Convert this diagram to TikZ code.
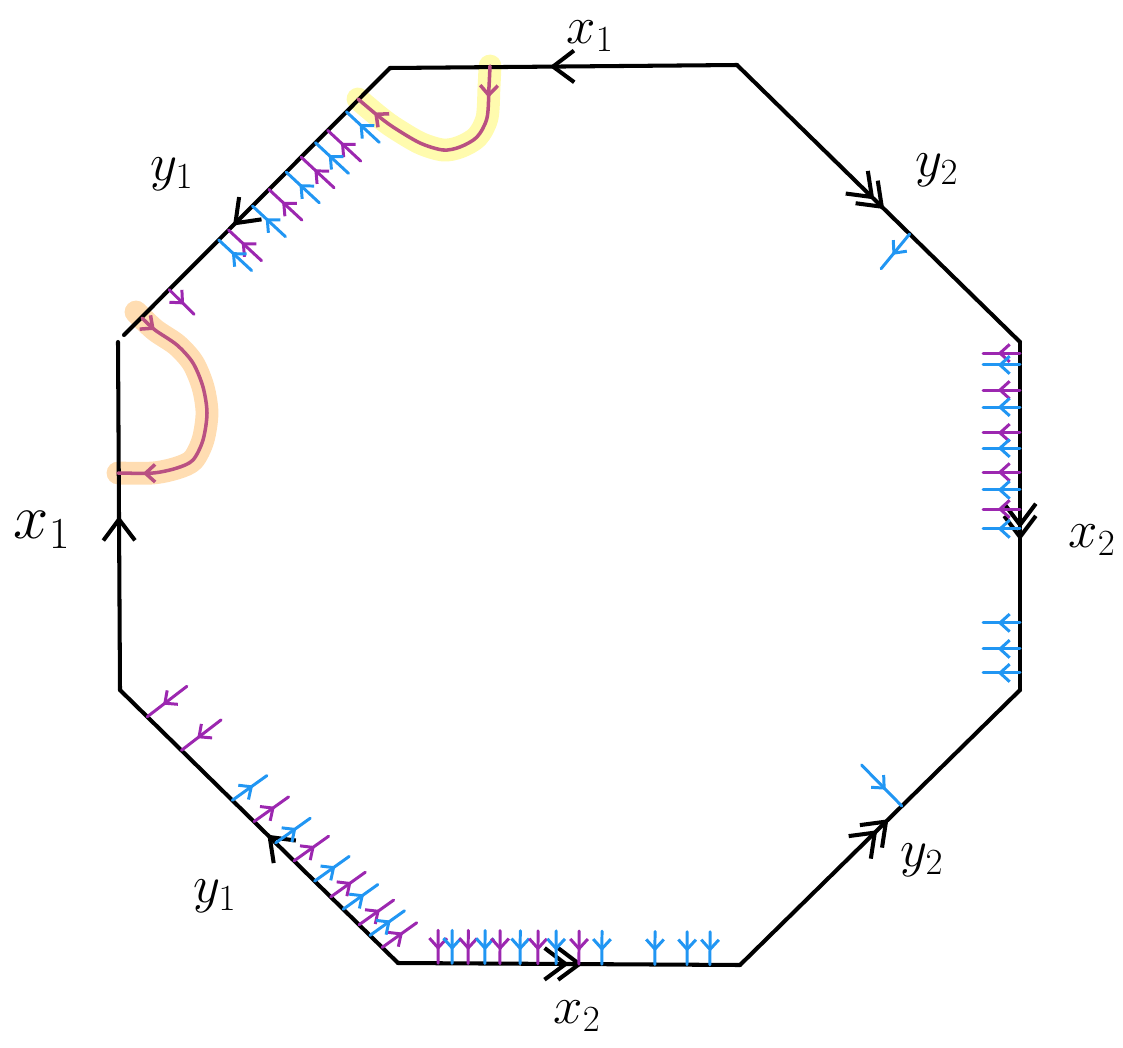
\documentclass[tikz,border=0pt]{standalone}
\usepackage{fix-cm}
\usepackage{tikz}
\usetikzlibrary{arrows.meta, calc, decorations.markings}
\definecolor{tickblue}{RGB}{33,150,243}
\definecolor{tickpurple}{RGB}{156,39,176}
\definecolor{curvered}{RGB}{185,80,130}
\definecolor{hlyellow}{RGB}{255,250,160}
\definecolor{hlorange}{RGB}{255,215,165}

\tikzset{
  bigbarb/.tip={Straight Barb[length=12pt,width=18pt]},
  smallbarb/.tip={Straight Barb[length=5.5pt,width=10pt]},
  octside/.style={line width=2.3pt, line cap=round},
  fwd/.style={postaction={decorate},decoration={markings,mark=at position #1 with {\arrow{bigbarb}}}},
  bwd/.style={postaction={decorate},decoration={markings,mark=at position #1 with {\arrowreversed{bigbarb}}}},
  twofwd/.style 2 args={postaction={decorate},decoration={markings,
      mark=at position #1 with {\arrow{bigbarb}},mark=at position #2 with {\arrow{bigbarb}}}},
  twobwd/.style 2 args={postaction={decorate},decoration={markings,
      mark=at position #1 with {\arrowreversed{bigbarb}},mark=at position #2 with {\arrowreversed{bigbarb}}}},
  colortick/.style={line width=1.7pt, line cap=round, postaction={decorate},
      decoration={markings,mark=at position 0.6 with {\arrow{smallbarb}}}},
  loopcurve/.style={curvered, line width=2pt, line cap=round, postaction={decorate},
      decoration={markings,mark=at position #1 with {\arrow{smallbarb}},mark=at position 0.9 with {\arrow{smallbarb}}}},
  glow/.style={line width=13pt, line cap=round, line join=round, opacity=0.85},
  lbl/.style={inner sep=0pt, font=\fontsize{30}{34}\selectfont}
}

\begin{document}
\begin{tikzpicture}[x=0.02cm, y=-0.02cm]
    \useasboundingbox (0,0) rectangle (1123,1048);

    % corners of the octagon
    \coordinate (p1) at (737,65);
    \coordinate (p2) at (390,68);
    \coordinate (p3) at (124,335);
    \coordinate (p4) at (118,342);
    \coordinate (p5) at (120,690);
    \coordinate (p6) at (398,963);
    \coordinate (p7) at (740,965);
    \coordinate (p8) at (1020,690);
    \coordinate (p9) at (1020,342);

    % highlighted loops (under everything)
    \draw[glow, hlyellow] plot[smooth] coordinates {(490,66) (489,87) (487,118) (477,137) (460,147) (443,150) (420,143) (393,127) (377,115) (358,99)};
    \draw[glow, hlorange] plot[smooth] coordinates {(136,312) (155,330) (177,345) (193,363) (203,387) (207,413) (203,440) (193,460) (177,468) (153,473) (118,473)};

    % sides of the octagon
    \draw[octside, fwd=0.54] (p1) -- (p2);            % x1 top
    \draw[octside, fwd=0.59] (p2) -- (p3);            % y1 upper
    \draw[octside, bwd=0.5] (p4) -- (p5);             % x1 left
    \draw[octside, bwd=0.53] (p5) -- (p6);            % y1 lower
    \draw[octside, twofwd={0.50}{0.54}] (p6) -- (p7); % x2 bottom
    \draw[octside, twofwd={0.49}{0.53}] (p7) -- (p8); % y2 lower
    \draw[octside, twobwd={0.43}{0.465}] (p8) -- (p9); % x2 right
    \draw[octside, twobwd={0.48}{0.515}] (p9) -- (p1); % y2 upper

    % the two loops
    \draw[loopcurve=0.15] plot[smooth] coordinates {(490,66) (489,87) (487,118) (477,137) (460,147) (443,150) (420,143) (393,127) (377,115) (358,99)};
    \draw[loopcurve=0.07] plot[smooth] coordinates {(142,318) (155,330) (177,345) (193,363) (203,387) (207,413) (203,440) (193,460) (177,468) (153,473) (118,473)};

    % ticks on y1 upper, pointing to the side
    \foreach \t/\c in {0.164/tickblue, 0.234/tickpurple, 0.280/tickblue, 0.334/tickpurple, 0.390/tickblue,
                       0.455/tickpurple, 0.517/tickblue, 0.607/tickpurple, 0.644/tickblue}{
        \coordinate (e) at ($(p2)!\t!(p3)$);
        \coordinate (f) at ($(e)!0.9cm!92:(p3)$);
        \draw[colortick, color=\c] (f) -- (e);
    }
    % one purple tick going in
    \coordinate (e) at ($(p2)!0.83!(p3)$);
    \coordinate (f) at ($(e)!0.7cm!90:(p3)$);
    \draw[colortick, color=tickpurple] (e) -- (f);

    % ticks on y2 upper and y2 lower
    \coordinate (e) at ($(p9)!0.39!(p1)$);
    \coordinate (f) at ($(e)!0.9cm!95:(p1)$);
    \draw[colortick, color=tickblue] (e) -- (f);
    \coordinate (e) at ($(p7)!0.578!(p8)$);
    \coordinate (f) at ($(e)!1.15cm!90:(p8)$);
    \draw[colortick, color=tickblue] (f) -- (e);

    % ticks on x2 right, going in
    \foreach \t/\c in {0.968/tickpurple, 0.934/tickblue, 0.862/tickpurple, 0.813/tickblue, 0.739/tickpurple,
                       0.695/tickblue, 0.626/tickpurple, 0.575/tickblue, 0.520/tickpurple, 0.463/tickblue,
                       0.193/tickblue, 0.118/tickblue, 0.049/tickblue}{
        \coordinate (e) at ($(p8)!\t!(p9)$);
        \coordinate (f) at ($(e)!0.74cm!90:(p9)$);
        \draw[colortick, color=\c] (e) -- (f);
    }

    % ticks on y1 lower
    \foreach \t in {0.098, 0.221}{
        \coordinate (e) at ($(p5)!\t!(p6)$);
        \coordinate (f) at ($(e)!1.0cm!82:(p6)$);
        \draw[colortick, color=tickpurple] (f) -- (e);
    }
    \foreach \t/\c in {0.404/tickblue, 0.482/tickpurple, 0.560/tickblue, 0.626/tickpurple, 0.700/tickblue,
                       0.758/tickpurple, 0.803/tickblue, 0.860/tickpurple, 0.899/tickblue, 0.943/tickpurple}{
        \coordinate (e) at ($(p5)!\t!(p6)$);
        \coordinate (f) at ($(e)!0.85cm!80:(p6)$);
        \draw[colortick, color=\c] (e) -- (f);
    }

    % ticks on x2 bottom, pointing to the side
    \foreach \t/\c in {0.117/tickpurple, 0.158/tickblue, 0.205/tickpurple, 0.254/tickblue, 0.298/tickpurple,
                       0.357/tickblue, 0.409/tickpurple, 0.462/tickblue, 0.529/tickpurple, 0.596/tickblue,
                       0.751/tickblue, 0.845/tickblue, 0.912/tickblue}{
        \coordinate (e) at ($(p6)!\t!(p7)$);
        \coordinate (f) at ($(e)!0.66cm!90:(p7)$);
        \draw[colortick, color=\c] (f) -- (e);
    }

    % labels
    \node[lbl] (xtop) at (590,36) {$x_1$};
    \node[lbl] (yupl) at (172,174) {$y_1$};
    \node[lbl] (yupr) at (937,170) {$y_2$};
    \node[lbl, font=\fontsize{36}{40}\selectfont] (xleft) at (42,530) {$x_1$};
    \node[lbl] (xright) at (1092,540) {$x_2$};
    \node[lbl] (ylowr) at (922,860) {$y_2$};
    \node[lbl] (ylowl) at (215,896) {$y_1$};
    \node[lbl] (xbot) at (577,1016) {$x_2$};
\end{tikzpicture}
\end{document}
